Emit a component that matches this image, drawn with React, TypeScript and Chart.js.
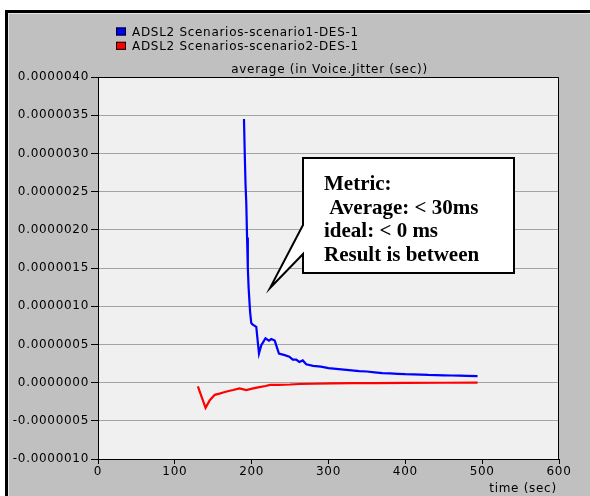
import React, { useEffect, useRef } from "react";
import { Chart, registerables } from "chart.js";

Chart.register(...registerables);

// ---- data (time in sec, jitter in sec) ----
const seriesLabels = ["ADSL2 Scenarios-scenario1-DES-1", "ADSL2 Scenarios-scenario2-DES-1"];
const seriesColors = ["#0000ff", "#ff0000"];

const blueTimes = [
  190, 191, 192, 193, 194, 195, 196, 197, 198, 199.5, 201, 206, 209.5, 212.5, 215, 218, 222.5,
  225.5, 230, 235.5, 243, 249, 253.5, 258, 262, 266.5, 271, 280, 290, 300, 310, 320, 330, 340,
  350, 360, 370, 380, 390, 400, 410, 420, 430, 440, 450, 460, 470, 480, 494,
];
const blueValues = [
  3.45e-6, 3.0e-6, 2.6e-6, 2.35e-6, 1.9e-6, 1.5e-6, 1.25e-6, 1.08e-6, 0.92e-6, 0.78e-6, 0.76e-6,
  0.73e-6, 0.38e-6, 0.49e-6, 0.53e-6, 0.58e-6, 0.55e-6, 0.57e-6, 0.55e-6, 0.38e-6, 0.36e-6,
  0.34e-6, 0.3e-6, 0.3e-6, 0.27e-6, 0.29e-6, 0.24e-6, 0.22e-6, 0.21e-6, 0.19e-6, 0.18e-6,
  0.17e-6, 0.16e-6, 0.15e-6, 0.145e-6, 0.135e-6, 0.125e-6, 0.12e-6, 0.115e-6, 0.11e-6,
  0.108e-6, 0.105e-6, 0.1e-6, 0.098e-6, 0.095e-6, 0.093e-6, 0.09e-6, 0.088e-6, 0.085e-6,
];

const redTimes = [
  130, 135, 140, 145.5, 152, 158, 163, 170, 176, 184, 188, 193, 198, 202, 210, 218, 224, 235,
  250, 262, 280, 305, 330, 360, 400, 450, 494,
];
const redValues = [
  -0.05e-6, -0.19e-6, -0.33e-6, -0.23e-6, -0.16e-6, -0.145e-6, -0.13e-6, -0.11e-6, -0.097e-6,
  -0.075e-6, -0.085e-6, -0.097e-6, -0.085e-6, -0.075e-6, -0.06e-6, -0.045e-6, -0.03e-6,
  -0.03e-6, -0.025e-6, -0.018e-6, -0.015e-6, -0.01e-6, -0.008e-6, -0.006e-6, -0.004e-6,
  -0.002e-6, -0.001e-6,
];

const yTickValues = [
  -1.0e-6, -0.5e-6, 0, 0.5e-6, 1.0e-6, 1.5e-6, 2.0e-6, 2.5e-6, 3.0e-6, 3.5e-6, 4.0e-6,
];
const xTickValues = [0, 100, 200, 300, 400, 500, 600];

const chartTitle = "average (in Voice.Jitter (sec))";
const xAxisTitle = "time (sec)";
const calloutLines = ["Metric:", " Average: < 30ms", "ideal: < 0 ms", "Result is between"];

const SPACING = "0.7px";
const TEXT_COLOR = "#000";
const FAMILY = "'DejaVu Sans', Verdana, sans-serif";
const FONT = "12px " + FAMILY;

const framePlugin = {
  id: "frame",
  beforeLayout(chart: any) {
    chart.ctx.letterSpacing = SPACING;
  },
  beforeDraw(chart: any) {
    const ctx = chart.ctx;
    const { width, height } = chart;
    const a = chart.chartArea;
    ctx.save();
    ctx.letterSpacing = "0px";
    ctx.fillStyle = "#ffffff";
    ctx.fillRect(0, 0, width, height);
    ctx.fillStyle = "#c0c0c0";
    ctx.fillRect(5, 10, width - 5, height - 10);
    ctx.fillStyle = "#000";
    ctx.fillRect(5, 10, 3, height - 10);
    ctx.fillRect(5, 10, width - 5, 3);
    ctx.fillStyle = "#e4e4e4";
    ctx.fillRect(8, 13, 1, height - 13);
    ctx.fillRect(8, 13, width - 8, 1);
    // plot background
    ctx.fillStyle = "#f0f0f0";
    ctx.fillRect(a.left, a.top, a.right - a.left, a.bottom - a.top);

    // legend
    ctx.letterSpacing = SPACING;
    ctx.font = FONT;
    ctx.textBaseline = "alphabetic";
    ctx.textAlign = "left";
    chart.data.datasets.forEach((ds: any, i: number) => {
      const base = 35.5 + i * 14.3;
      ctx.fillStyle = ds.borderColor;
      ctx.fillRect(116, base - 8, 10, 8);
      ctx.strokeStyle = "#000";
      ctx.lineWidth = 1;
      ctx.strokeRect(116.5, base - 7.5, 9, 7);
      ctx.fillStyle = TEXT_COLOR;
      ctx.fillText(ds.label, 132, base);
    });
    // title
    ctx.textAlign = "center";
    ctx.fillText(chartTitle, (a.left + a.right) / 2 + 1, 73);
    // x axis title
    ctx.fillText(xAxisTitle, 523, 492);
    ctx.restore();
    ctx.letterSpacing = SPACING;
  },
  afterDatasetsDraw(chart: any) {
    const ctx = chart.ctx;
    const a = chart.chartArea;
    ctx.save();
    ctx.strokeStyle = "#000";
    ctx.lineWidth = 1;
    ctx.beginPath();
    ctx.moveTo(a.left, a.top + 0.5);
    ctx.lineTo(a.right - 0.5, a.top + 0.5);
    ctx.lineTo(a.right - 0.5, a.bottom);
    ctx.stroke();
    ctx.restore();
  },
  afterDraw(chart: any) {
    const ctx = chart.ctx;
    ctx.save();
    ctx.letterSpacing = "0px";
    ctx.beginPath();
    ctx.moveTo(303, 158);
    ctx.lineTo(514, 158);
    ctx.lineTo(514, 273);
    ctx.lineTo(303, 273);
    ctx.lineTo(303, 254);
    ctx.lineTo(270, 288);
    ctx.lineTo(303, 225);
    ctx.closePath();
    ctx.fillStyle = "#ffffff";
    ctx.fill();
    ctx.strokeStyle = "#000";
    ctx.lineWidth = 2;
    ctx.lineJoin = "miter";
    ctx.stroke();
    ctx.fillStyle = "#000";
    ctx.font = "bold 21px 'Liberation Serif', 'Times New Roman', serif";
    ctx.textAlign = "left";
    ctx.textBaseline = "alphabetic";
    calloutLines.forEach((line, i) => {
      ctx.fillText(line, 324, 190 + i * 23.7);
    });
    ctx.restore();
  },
};

function fmt(v: number): string {
  if (Math.abs(v) < 1e-12) return "0.0000000";
  return v.toFixed(7);
}

export default function App() {
  const ref = useRef<HTMLCanvasElement | null>(null);
  useEffect(() => {
    if (!ref.current) return;
    const chart = new Chart(ref.current, {
      type: "line",
      data: {
        datasets: [
          {
            label: seriesLabels[0],
            data: blueTimes.map((t, i) => ({ x: t, y: blueValues[i] })),
            borderColor: seriesColors[0],
            backgroundColor: seriesColors[0],
            borderWidth: 2.2,
            pointRadius: 0,
            tension: 0,
          },
          {
            label: seriesLabels[1],
            data: redTimes.map((t, i) => ({ x: t, y: redValues[i] })),
            borderColor: seriesColors[1],
            backgroundColor: seriesColors[1],
            borderWidth: 2.2,
            pointRadius: 0,
            tension: 0,
          },
        ],
      },
      options: {
        animation: false,
        responsive: false,
        devicePixelRatio: 1,
        layout: { padding: { left: 0, top: 77, right: 31, bottom: 0 } },
        plugins: {
          legend: { display: false },
          title: { display: false },
          tooltip: { enabled: false },
        },
        scales: {
          x: {
            type: "linear",
            min: 0,
            max: 600,
            afterBuildTicks: (scale: any) => {
              scale.ticks = xTickValues.map((v) => ({ value: v }));
            },
            afterFit: (scale: any) => {
              scale.height = 37;
            },
            grid: {
              drawOnChartArea: false,
              drawTicks: true,
              tickLength: 5,
              tickColor: "#000",
            },
            border: { display: true, color: "#000", width: 1 },
            ticks: {
              color: TEXT_COLOR,
              font: { family: FAMILY, size: 12 },
              padding: 1,
              maxRotation: 0,
              autoSkip: false,
              callback: (v: any) => String(v),
            },
          },
          y: {
            type: "linear",
            min: -1.0e-6,
            max: 4.0e-6,
            afterBuildTicks: (scale: any) => {
              scale.ticks = yTickValues.map((v) => ({ value: v }));
            },
            afterFit: (scale: any) => {
              scale.width = 98;
            },
            grid: {
              color: "#a4a4a4",
              lineWidth: 1,
              drawTicks: true,
              tickLength: 7,
              tickColor: "#000",
            },
            border: { display: true, color: "#000", width: 1 },
            ticks: {
              color: TEXT_COLOR,
              font: { family: FAMILY, size: 12 },
              padding: 2,
              autoSkip: false,
              callback: (v: any) => fmt(Number(v)),
            },
          },
        },
      },
      plugins: [framePlugin],
    } as any);
    return () => chart.destroy();
  }, []);
  return (
    <div style={{ position: "fixed", left: 0, top: 0, width: 590, height: 496 }}>
      <canvas ref={ref} width={590} height={496} style={{ display: "block", width: 590, height: 496 }} />
    </div>
  );
}
